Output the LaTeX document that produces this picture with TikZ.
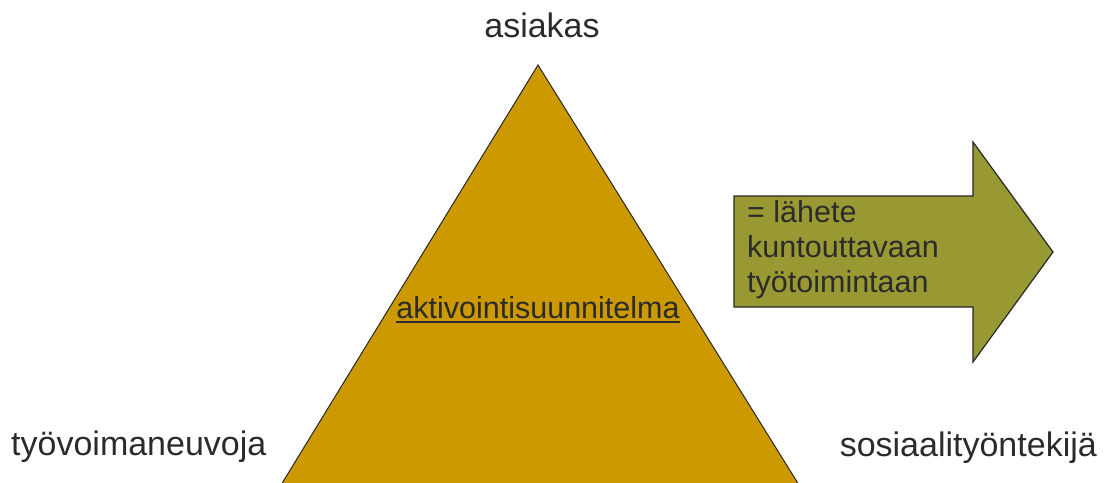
\documentclass[tikz,border=0pt]{standalone}
\usepackage{fontspec}
\setmainfont{Liberation Sans}
\definecolor{txt}{HTML}{2B2B2B}
\definecolor{trifill}{HTML}{CC9900}
\definecolor{arrfill}{HTML}{999933}
\definecolor{edge}{HTML}{262626}
\newcommand{\myul}[1]{\setbox0\hbox{#1}\rlap{\raisebox{-5pt}{\rule{\wd0}{2pt}}}\box0}
\begin{document}
\begin{tikzpicture}[x=1pt,y=-1pt,
  lbl/.style={text=txt,inner sep=0pt,font=\fontsize{34}{40}\selectfont},
  small/.style={text=txt,inner sep=0pt,font=\fontsize{30.5}{35}\selectfont}]
\useasboundingbox (0,0) rectangle (1108,482);
\begin{scope}
\clip (0,0) rectangle (1108,482);
% triangle
\coordinate (apex) at (538,65);
\coordinate (bl) at (281,485);
\coordinate (br) at (799,485);
\fill[trifill] (apex) -- (bl) -- (br) -- cycle;
\draw[edge,line width=1pt,line join=miter] (bl) -- (apex) -- (br);
\end{scope}
% arrow
\draw[edge,line width=1.2pt,fill=arrfill,line join=miter]
  (734,196) -- (973,196) -- (973,142) -- (1053,252) -- (973,362) -- (973,307) -- (734,307) -- cycle;
% labels
\node[lbl,anchor=base] (asiakas) at (542,37) {asiakas};
\node[lbl,anchor=base west] (tyo) at (11,455) {työvoimaneuvoja};
\node[lbl,anchor=base east] (sos) at (1097,456) {sosiaalityöntekijä};
\node[small,anchor=base] (plan) at (538,318) {\myul{aktivointisuunnitelma}};
\node[small,anchor=base west,align=left] (lahete) at (747,292) {= lähete\\kuntouttavaan\\työtoimintaan};
\end{tikzpicture}
\end{document}
